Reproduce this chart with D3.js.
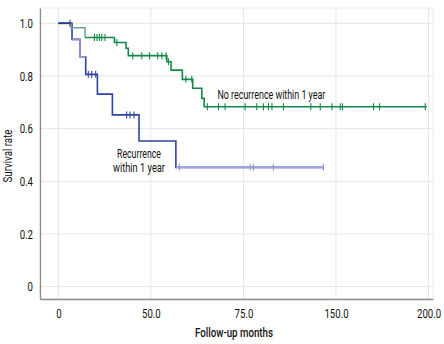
<!DOCTYPE html>
<html>
<head>
<meta charset="utf-8">
<script src="https://cdn.jsdelivr.net/npm/d3@7"></script>
<style>
  html, body { margin: 0; padding: 0; background: #fff; }
  svg { display: block; }
  text { font-family: Roboto, "Liberation Sans", sans-serif; fill: #111; }
</style>
</head>
<body>
<svg id="chart" width="444" height="344"></svg>
<script>
// ---- data ----
const xTicks = [0, 50, 100, 150, 200];
const xTickLabels = ["0", "50.0", "75.0", "150.0", "200.0"];
const yTicks = [0, 0.2, 0.4, 0.6, 0.8, 1.0];
const yTickLabels = ["0", "0.2", "0.4", "0.6", "0.8", "1.0"];

// No recurrence within 1 year: step times and survival after each step
const noRecTimes = [0, 6.9, 14.4, 30.3, 36.6, 37.8, 58.6, 60.9, 67.0, 72.6, 77.5, 78.8, 199.1];
const noRecSurv  = [1.0, 0.983, 0.946, 0.927, 0.905, 0.877, 0.854, 0.822, 0.787, 0.753, 0.715, 0.683, 0.683];
const noRecCensor = [19.5, 20.9, 22.2, 23.5, 25.2, 31.6, 40.2, 45.1, 49.2, 53.7, 55.9, 58.2, 59.5, 68.9, 72.1,
  80.5, 86.5, 90.1, 100.9, 107.2, 110.8, 113.5, 115.4, 121.6, 136.4, 141.5, 147.8, 152.3, 153.5, 170.3, 173.5, 198.2];

// Recurrence within 1 year
const recTimes = [0, 7.4, 11.7, 14.8, 21.1, 29.2, 43.6, 63.5, 143.2];
const recSurv  = [1.0, 0.939, 0.873, 0.806, 0.731, 0.652, 0.553, 0.453, 0.453];
const recCensor = [6.3, 16.2, 18.0, 20.2, 36.9, 38.7, 40.9, 65.4, 103.6, 105.4, 116.2, 143.2];

const seriesNames = ["No recurrence within 1 year", "Recurrence", "within 1 year"];

// ---- layout ----
const svg = d3.select("#chart");
const pL = 40, pR = 433, pT = 8, pB = 299;
const x = d3.scaleLinear().domain([-9.9, 202.4]).range([pL, pR]);
const y = d3.scaleLinear().domain([-0.047, 1.058]).range([pB, pT]);

// condense text horizontally about its anchor point (reference uses a condensed face)
function condense(sel, k) {
  sel.each(function () {
    const el = d3.select(this);
    const ax = +el.attr("x") || 0, ay = +el.attr("y") || 0;
    el.attr("transform", `translate(${ax},${ay}) scale(${k},1) translate(${-ax},${-ay})`);
  });
}

// plot border (light)
svg.append("rect").attr("x", pL).attr("y", pT).attr("width", pR - pL).attr("height", pB - pT)
  .attr("fill", "none").attr("stroke", "#ececec").attr("stroke-width", 1);

// gridlines
svg.append("g").selectAll("line").data(xTicks).join("line")
  .attr("x1", d => x(d)).attr("x2", d => x(d)).attr("y1", pT).attr("y2", pB)
  .attr("stroke", "#e6e6e6").attr("stroke-width", 1);
svg.append("g").selectAll("line").data(yTicks).join("line")
  .attr("x1", pL).attr("x2", pR).attr("y1", d => y(d)).attr("y2", d => y(d))
  .attr("stroke", "#e6e6e6").attr("stroke-width", 1);

// axes
const xAxis = d3.axisBottom(x).tickValues(xTicks).tickFormat((d, i) => xTickLabels[i]).tickSize(0).tickPadding(10);
const yAxis = d3.axisLeft(y).tickValues(yTicks).tickFormat((d, i) => yTickLabels[i]).tickSize(0).tickPadding(7);
const gx = svg.append("g").attr("transform", `translate(0,${pB})`).call(xAxis);
const gy = svg.append("g").attr("transform", `translate(${pL},0)`).call(yAxis);
gx.select(".domain").attr("stroke", "#8c8c8c").attr("stroke-width", 1.3);
gy.select(".domain").attr("stroke", "#8c8c8c").attr("stroke-width", 1.3);
gx.selectAll("text").attr("font-size", 13).attr("font-family", "Roboto, sans-serif").style("fill", "#111").call(condense, 0.74);
gy.selectAll("text").attr("font-size", 13).attr("font-family", "Roboto, sans-serif").style("fill", "#111").call(condense, 0.74);

// step path builder
function stepPath(times, surv) {
  const pts = times.map((t, i) => [t, surv[i]]);
  return d3.line().x(d => x(d[0])).y(d => y(d[1])).curve(d3.curveStepAfter)(pts);
}
function survAt(times, surv, t) {
  let s = surv[0];
  for (let i = 0; i < times.length; i++) if (times[i] <= t) s = surv[i];
  return s;
}

// Recurrence curve
const recDark = "#2e44a3", recLight = "#a3a6dc";
svg.append("path").attr("d", stepPath(recTimes, recSurv))
  .attr("fill", "none").attr("stroke", recDark).attr("stroke-width", 1.6);
// lighter segments (early steps and final tail)
svg.append("path").attr("d", stepPath(recTimes.slice(1, 4), recSurv.slice(1, 3).concat([recSurv[2]])))
  .attr("fill", "none").attr("stroke", "#8f95d2").attr("stroke-width", 1.6);
svg.append("path").attr("d", stepPath(recTimes.slice(7), recSurv.slice(7)))
  .attr("fill", "none").attr("stroke", recLight).attr("stroke-width", 1.6);
svg.append("path").attr("d", stepPath(recTimes.slice(0, 2), [recSurv[0], recSurv[0]]))
  .attr("fill", "none").attr("stroke", "#27388a").attr("stroke-width", 1.8);

// No recurrence curve
const green = "#13894a";
svg.append("path").attr("d", stepPath(noRecTimes.slice(2), noRecSurv.slice(2)))
  .attr("fill", "none").attr("stroke", green).attr("stroke-width", 1.6);
svg.append("path").attr("d", `M${x(noRecTimes[1])},${y(noRecSurv[0])}V${y(noRecSurv[1])}H${x(noRecTimes[2])}V${y(noRecSurv[2])}`)
  .attr("fill", "none").attr("stroke", "#6f9f9a").attr("stroke-width", 1.5);

// censor marks
svg.append("g").selectAll("line").data(noRecCensor).join("line")
  .attr("x1", d => x(d)).attr("x2", d => x(d))
  .attr("y1", d => y(survAt(noRecTimes, noRecSurv, d)) - 3.5)
  .attr("y2", d => y(survAt(noRecTimes, noRecSurv, d)) + 3.5)
  .attr("stroke", green).attr("stroke-width", 1.1);
svg.append("g").selectAll("line").data(recCensor).join("line")
  .attr("x1", d => x(d)).attr("x2", d => x(d))
  .attr("y1", d => y(survAt(recTimes, recSurv, d)) - 3.5)
  .attr("y2", d => y(survAt(recTimes, recSurv, d)) + 3.5)
  .attr("stroke", d => d > recTimes[7] ? "#8f95d2" : recDark).attr("stroke-width", 1.1);

// labels (scaled horizontally to the reference widths)
function label(txt, xx, yy, w, anchor, size, weight) {
  const t = svg.append("text").attr("x", xx).attr("y", yy).attr("font-size", size)
    .attr("font-weight", weight || 400).attr("text-anchor", anchor).text(txt);
  const k = w / t.node().getComputedTextLength();
  t.call(condense, k);
  return t;
}
label(seriesNames[0], 217.5, 99.5, 108, "start", 13);
label(seriesNames[1], 139, 158.2, 44, "middle", 12);
label(seriesNames[2], 139, 172.5, 52, "middle", 12);

// axis titles
label("Follow-up months", 234, 337, 78, "middle", 12.5, 500);
const yt = svg.append("g").attr("transform", "translate(12,156) rotate(-90)");
const ytText = yt.append("text").attr("x", 0).attr("y", 0).attr("font-size", 12.5)
  .attr("text-anchor", "middle").text("Survival rate");
ytText.call(condense, 53 / ytText.node().getComputedTextLength());
</script>
</body>
</html>
